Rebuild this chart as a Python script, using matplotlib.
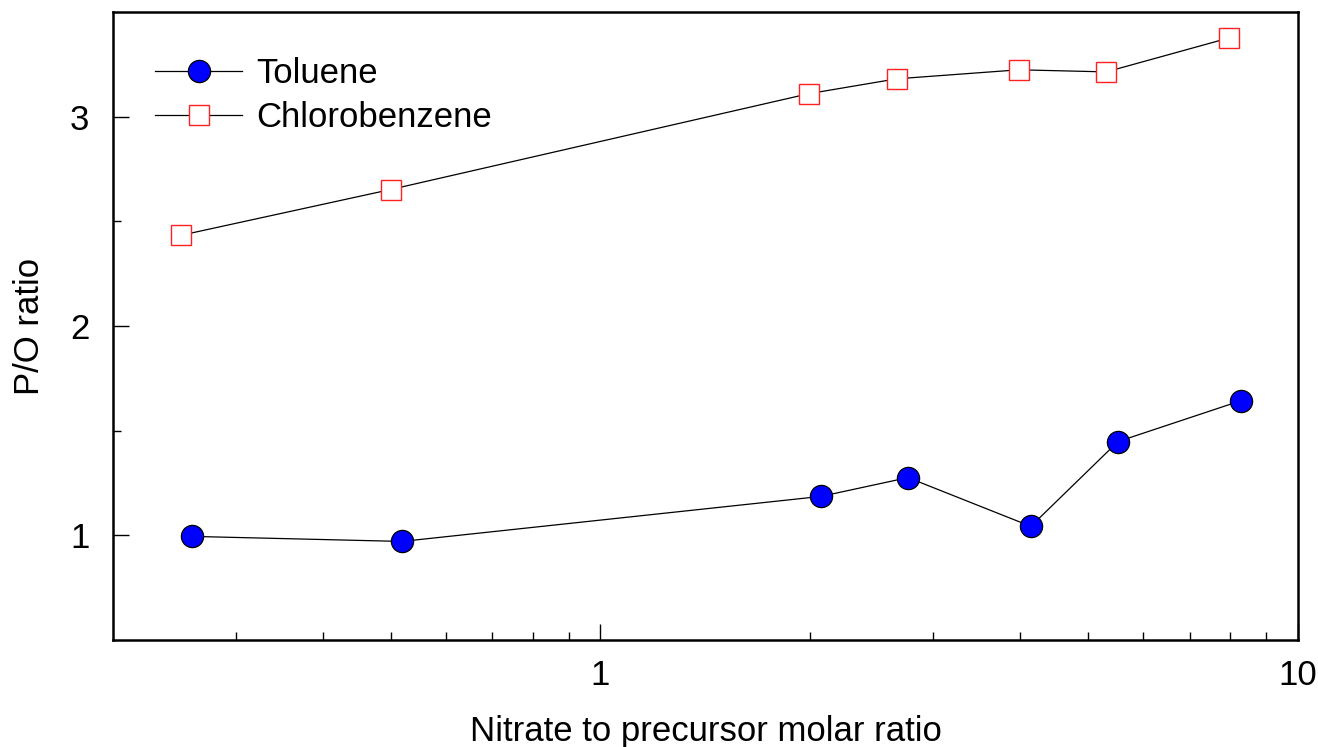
import matplotlib
matplotlib.use("Agg")
import matplotlib.pyplot as plt
from matplotlib.ticker import FixedLocator, NullFormatter, FixedFormatter

plt.rcParams["font.family"] = ["Liberation Sans", "DejaVu Sans"]

# Data
toluene_x = [0.260, 0.519, 2.07, 2.76, 4.14, 5.52, 8.28]
toluene_y = [0.995, 0.971, 1.186, 1.276, 1.043, 1.448, 1.643]
chloro_x = [0.250, 0.500, 1.99, 2.66, 3.98, 5.31, 7.96]
chloro_y = [2.433, 2.652, 3.110, 3.181, 3.224, 3.214, 3.376]

x_major = [1, 10]
x_minor = [0.3, 0.4, 0.5, 0.6, 0.7, 0.8, 0.9, 2, 3, 4, 5, 6, 7, 8, 9]
y_major = [1, 2, 3]
y_minor = [1.5, 2.5]

fig = plt.figure(figsize=(13.18, 7.47), dpi=100)
ax = fig.add_axes([0.0857, 0.1432, 0.8991, 0.8407])

ax.plot(toluene_x, toluene_y, color="black", lw=0.9, marker="o", ms=16,
        mfc="#0000ff", mec="black", mew=0.9, label="Toluene")
ax.plot(chloro_x, chloro_y, color="black", lw=0.9, marker="s", ms=15,
        mfc="white", mec="#ff2020", mew=1.0, label="Chlorobenzene")

ax.set_xscale("log")
ax.set_xlim(0.2, 10)
ax.set_ylim(0.5, 3.5)

ax.xaxis.set_major_locator(FixedLocator(x_major))
ax.xaxis.set_major_formatter(FixedFormatter(["1", "10"]))
ax.xaxis.set_minor_locator(FixedLocator(x_minor))
ax.xaxis.set_minor_formatter(NullFormatter())
ax.yaxis.set_major_locator(FixedLocator(y_major))
ax.yaxis.set_minor_locator(FixedLocator(y_minor))

ax.tick_params(which="both", direction="in", labelsize=25, width=1.0)
ax.tick_params(which="major", length=11.5)
ax.tick_params(which="minor", length=6)
ax.tick_params(axis="x", pad=14)
ax.tick_params(axis="y", pad=17)

for spine in ax.spines.values():
    spine.set_linewidth(1.8)

ax.set_xlabel("Nitrate to precursor molar ratio", fontsize=25, labelpad=16)
ax.set_ylabel("P/O ratio", fontsize=25, labelpad=17)

ax.legend(loc="upper left", frameon=False, fontsize=25, handlelength=2.5,
          handletextpad=0.4, labelspacing=0.32,
          bbox_to_anchor=(0.0093, 0.978))

fig.savefig("out.png", dpi=100)
